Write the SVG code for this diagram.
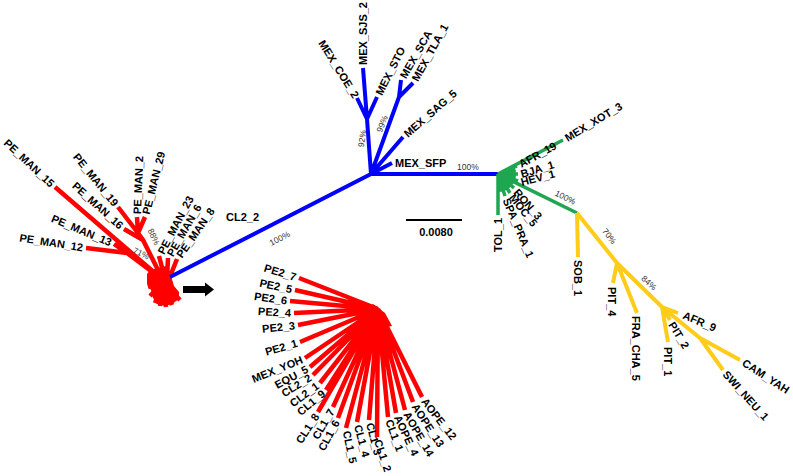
<svg xmlns="http://www.w3.org/2000/svg" width="793" height="476" viewBox="0 0 793 476">
<style>
.r{stroke:#ff0000;stroke-width:4.5;fill:none}
.b{stroke:#0000ff;stroke-width:4;fill:none}
.g{stroke:#1fa650;stroke-width:3.5;fill:none}
.y{stroke:#ffcc1a;stroke-width:4;fill:none}
text{font-family:"Liberation Sans",Arial,sans-serif;font-size:11px;font-weight:bold;fill:#000}
.p{font-size:8.5px;font-weight:normal;fill:#333}
.e{text-anchor:end}
.m{text-anchor:middle}
</style>
<rect width="793" height="476" fill="#fff"/>
<g id="connectors">
<path class="r" d="M163,280L55,187M163,280L127,253L86,248M127,253L114,244M163,280L143,240L138,233L118,207M138,233L137,217M138,233L145,217M143,240L124,229M165,279L159,256M167,279L168,258M169,279L177,259"/>
<path d="M150,270L166,266L171,276L174,286L179,292L179,299L172,304L165,306L157,304L153,298L151,290L147,284L147,274Z" fill="#ff0000"/>
<path class="r" d="M163,282L150,296M163,282L155,303M163,282L160,306M163,282L166,307M163,282L172,305M163,282L180,300M163,282L148,287"/>
<path class="b" d="M170,277L371,174L498,174M371,174L392,163M371,174L403,137M371,174L399,97L401,80M399,97L413,83M371,174L367,119L357,98M367,119L363,68M367,119L377,97"/>
<path class="g" d="M498,174L563,140M498,174L577,213M498,174L498,215M498,174L517,166M498,174L518,174M498,174L518,181M498,174L514,188M498,174L510,193M498,174L505,196M498,174L514.9,167.8M498,174L515.6,170.3M498,174L515.9,172.1M498,174L515.9,175.9M498,174L515.6,177.7M498,174L513.3,183.5M498,174L510,187.4M498,174L505.6,190.3M498,174L501.1,191.7"/>
<path class="y" d="M577,213L578,257M577,213L617,263L613,283M617,263L637,313M617,263L662,307L678,313M662,307L670,320M662,307L668,342M662,307L700,338L740,360M700,338L723,370"/>
<path class="r" stroke-width="5" d="M378,309L299,278M378,309L295,290M378,309L290,301M378,309L294,313M378,309L298,325M378,309L300,342M378,309L305,358M378,309L310,367M378,309L313,375M378,309L320,383M378,309L326,390M378,309L318,412M378,309L333,407M378,309L338,418M378,309L346,428M378,309L357,422M378,309L369,420M378,309L377,437M378,309L388,417M378,309L396,413M378,309L405,410M378,309L413,402M378,309L422,397"/>
<path d="M373,304L385,313L392,326L372,330L362,312Z" fill="#ff0000"/>
</g>
<g id="arrow">
<rect x="183" y="286" width="24" height="7" fill="#000"/>
<path d="M205,282.5L214,289.5L205,296.5Z" fill="#000"/>
</g>
<g id="scalebar">
<line x1="406" y1="220" x2="462" y2="220" stroke="#000" stroke-width="2"/>
<text x="436" y="236" class="m">0.0080</text>
</g>
<g id="support">
<text class="p m" transform="translate(281,241) rotate(-27)">100%</text>
<text class="p" x="457" y="170">100%</text>
<text class="p m" transform="translate(365,139) rotate(-82)">92%</text>
<text class="p m" transform="translate(385,125) rotate(-68)">99%</text>
<text class="p m" transform="translate(564,200) rotate(26)">100%</text>
<text class="p m" transform="translate(607,238) rotate(52)">70%</text>
<text class="p m" transform="translate(647,285) rotate(42)">84%</text>
<text class="p m" transform="translate(140,256) rotate(25)">71%</text>
<text class="p m" transform="translate(151,238) rotate(65)">88%</text>
</g>
<g id="cl2_2_main"><text x="226" y="221">CL2_2</text></g>
<g id="pe_man">
<g id="PE_MAN_15"><text class="e" x="-3" y="4" transform="translate(55,187) rotate(43)">PE_MAN_15</text></g>
<g id="PE_MAN_19"><text class="e" x="-3" y="4" transform="translate(118,207) rotate(51)">PE_MAN_19</text></g>
<g id="PE_MAN_16"><text class="e" x="-3" y="4" transform="translate(124,229) rotate(42)">PE_MAN_16</text></g>
<g id="PE_MAN_13"><text class="e" x="-3" y="4" transform="translate(114,244) rotate(23)">PE_MAN_13</text></g>
<g id="PE_MAN_12"><text class="e" x="-3" y="4" transform="translate(86,248) rotate(9)">PE_MAN_12</text></g>
<g id="PE_MAN_2"><text x="3" y="4" transform="translate(137,217) rotate(-88)">PE_MAN_2</text></g>
<g id="PE_MAN_29"><text x="3" y="4" transform="translate(145,217) rotate(-76)">PE_MAN_29</text></g>
<g id="PE_MAN_23"><text x="3" y="4" transform="translate(159,256) rotate(-62)">PE_MAN_23</text></g>
<g id="PE_MAN_6"><text x="3" y="4" transform="translate(168,258) rotate(-60)">PE_MAN_6</text></g>
<g id="PE_MAN_8"><text x="3" y="4" transform="translate(177,259) rotate(-55)">PE_MAN_8</text></g>
</g>
<g id="mex">
<g id="MEX_SFP"><text x="3" y="4" transform="translate(392,163)">MEX_SFP</text></g>
<g id="MEX_SAG_5"><text x="3" y="4" transform="translate(403,137) rotate(-41)">MEX_SAG_5</text></g>
<g id="MEX_SCA"><text x="3" y="4" transform="translate(401,80) rotate(-60)">MEX_SCA</text></g>
<g id="MEX_TLA_1"><text x="3" y="4" transform="translate(413,83) rotate(-61)">MEX_TLA_1</text></g>
<g id="MEX_STO"><text x="3" y="4" transform="translate(377,97) rotate(-63)">MEX_STO</text></g>
<g id="MEX_SJS_2"><text x="3" y="4" transform="translate(363,68) rotate(-90)">MEX_SJS_2</text></g>
<g id="MEX_COE_2"><text class="e" x="-1" y="4" transform="translate(357,98) rotate(58)">MEX_COE_2</text></g>
</g>
<g id="green">
<g id="MEX_XOT_3"><text x="3" y="4" transform="translate(563,140) rotate(-31)">MEX_XOT_3</text></g>
<g id="AFR_19"><text x="3" y="4" transform="translate(517,166) rotate(-29)">AFR_19</text></g>
<g id="BJA_1"><text x="3" y="4" transform="translate(518,175) rotate(-17)">BJA_1</text></g>
<g id="HEV_1"><text x="3" y="4" transform="translate(518,183) rotate(-15)">HEV_1</text></g>
<g id="RON_3"><text x="3" y="4" transform="translate(514,188) rotate(49)">RON_3</text></g>
<g id="MOC_5"><text x="3" y="4" transform="translate(510,193) rotate(52)">MOC_5</text></g>
<g id="SPA_PRA_1"><text x="3" y="4" transform="translate(505,196) rotate(67)">SPA_PRA_1</text></g>
<g id="TOL_1"><text class="e" x="-3" y="4" transform="translate(498,215) rotate(-90)">TOL_1</text></g>
</g>
<g id="yellow">
<g id="SOB_1"><text x="3" y="4" transform="translate(578,257) rotate(90)">SOB_1</text></g>
<g id="PIT_4"><text x="3" y="4" transform="translate(612,284) rotate(90)">PIT_4</text></g>
<g id="FRA_CHA_5"><text x="3" y="4" transform="translate(636,313) rotate(90)">FRA_CHA_5</text></g>
<g id="PIT_1"><text x="4" y="4" transform="translate(668,343) rotate(90)">PIT_1</text></g>
<g id="PIT_2"><text x="3" y="4" transform="translate(670,320) rotate(59)">PIT_2</text></g>
<g id="AFR_9"><text x="4" y="4" transform="translate(680,313) rotate(23)">AFR_9</text></g>
<g id="CAM_YAH"><text x="3" y="4" transform="translate(741,360) rotate(33)">CAM_YAH</text></g>
<g id="SWI_NEU_1"><text x="3" y="4" transform="translate(723,370) rotate(48)">SWI_NEU_1</text></g>
</g>
<g id="inset">
<g id="PE2_7"><text class="e" x="-3" y="4" transform="translate(299,278) rotate(17)">PE2_7</text></g>
<g id="PE2_5"><text class="e" x="-3" y="4" transform="translate(295,290) rotate(12)">PE2_5</text></g>
<g id="PE2_6"><text class="e" x="-3" y="4" transform="translate(290,301) rotate(8)">PE2_6</text></g>
<g id="PE2_4"><text class="e" x="-3" y="4" transform="translate(294,313) rotate(3)">PE2_4</text></g>
<g id="PE2_3"><text class="e" x="-3" y="4" transform="translate(298,325) rotate(-6)">PE2_3</text></g>
<g id="PE2_1"><text class="e" x="-3" y="4" transform="translate(300,342) rotate(-16)">PE2_1</text></g>
<g id="MEX_YOH"><text class="e" x="-3" y="4" transform="translate(305,358) rotate(-22)">MEX_YOH</text></g>
<g id="EQU_5"><text class="e" x="-3" y="4" transform="translate(310,367) rotate(-28)">EQU_5</text></g>
<g id="CL2_2"><text class="e" x="-3" y="4" transform="translate(313,375) rotate(-32)">CL2_2</text></g>
<g id="CL2_1"><text class="e" x="-3" y="4" transform="translate(320,383) rotate(-36)">CL2_1</text></g>
<g id="CL1_9"><text class="e" x="-3" y="4" transform="translate(326,390) rotate(-40)">CL1_9</text></g>
<g id="CL1_8"><text class="e" x="-3" y="4" transform="translate(318,412) rotate(-57)">CL1_8</text></g>
<g id="CL1_7"><text class="e" x="-3" y="4" transform="translate(333,407) rotate(-60)">CL1_7</text></g>
<g id="CL1_6"><text class="e" x="-3" y="4" transform="translate(338,418) rotate(-62)">CL1_6</text></g>
<g id="CL1_5"><text x="3" y="4" transform="translate(346,428) rotate(78)">CL1_5</text></g>
<g id="CL1_4"><text x="3" y="4" transform="translate(357,422) rotate(75)">CL1_4</text></g>
<g id="CL1_3"><text x="3" y="4" transform="translate(369,420) rotate(75)">CL1_3</text></g>
<g id="CL1_2"><text x="3" y="4" transform="translate(377,437) rotate(72)">CL1_2</text></g>
<g id="CL1_1"><text x="3" y="4" transform="translate(388,417) rotate(70)">CL1_1</text></g>
<g id="AOPE_4"><text x="3" y="4" transform="translate(396,413) rotate(65)">AOPE_4</text></g>
<g id="AOPE_14"><text x="3" y="4" transform="translate(405,410) rotate(60)">AOPE_14</text></g>
<g id="AOPE_13"><text x="3" y="4" transform="translate(413,402) rotate(57)">AOPE_13</text></g>
<g id="AOPE_12"><text x="3" y="4" transform="translate(422,397) rotate(52)">AOPE_12</text></g>
</g>
</svg>
